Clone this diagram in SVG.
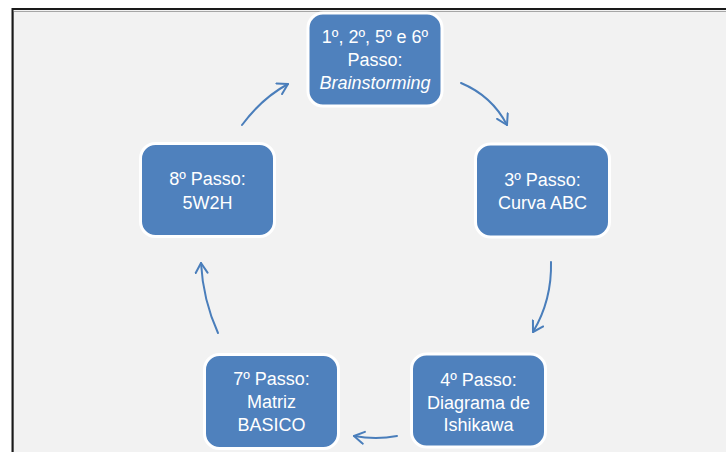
<svg xmlns="http://www.w3.org/2000/svg" width="726" height="452" viewBox="0 0 726 452">
<style>
.node rect{fill:#4f81bd;stroke:#ffffff;stroke-width:3}
.node text{fill:#ffffff;font-family:"Liberation Sans",Arial,sans-serif;font-size:18px;text-anchor:middle}
.conn path{fill:none;stroke:#4a7ebb;stroke-width:2;stroke-linecap:round}
</style>
<defs>
<marker id="ah" markerUnits="userSpaceOnUse" markerWidth="16" markerHeight="16" refX="11" refY="7" orient="auto">
<path d="M1,1 L11,7 L1,13" fill="none" stroke="#4a7ebb" stroke-width="2" stroke-linecap="round" stroke-linejoin="round"/>
</marker>
</defs>
<rect x="0" y="0" width="726" height="452" fill="#ffffff"/>
<rect x="12" y="9" width="730" height="460" fill="#f2f2f2"/>
<path d="M13.5,480 V11.5 H740" fill="none" stroke="#a6a6a6" stroke-width="1"/>
<path d="M12.5,480 V9 H740" fill="none" stroke="#1a1a1a" stroke-width="2"/>
<g id="connectors" class="conn">
<path d="M461,83 Q492,96 507,125" marker-end="url(#ah)"/>
<path d="M551,262 Q552,300 533,332" marker-end="url(#ah)"/>
<path d="M397,436 Q376,440 354,436" marker-end="url(#ah)"/>
<path d="M218,333 Q203,300 201,263" marker-end="url(#ah)"/>
<path d="M242,125 Q262,98 288,84" marker-end="url(#ah)"/>
</g>
<g id="node-brainstorming" class="node">
<rect x="308" y="13" width="134" height="93" rx="15"/>
<text x="375" y="43">1º, 2º, 5º e 6º</text>
<text x="375" y="66">Passo:</text>
<text x="375" y="89" font-style="italic">Brainstorming</text>
</g>
<g id="node-curva-abc" class="node">
<rect x="475.5" y="144" width="134" height="93" rx="15"/>
<text x="542.5" y="185.5">3º Passo:</text>
<text x="542.5" y="208.5">Curva ABC</text>
</g>
<g id="node-ishikawa" class="node">
<rect x="411.5" y="354" width="134" height="93" rx="15"/>
<text x="478.5" y="386">4º Passo:</text>
<text x="478.5" y="408.5">Diagrama de</text>
<text x="478.5" y="431">Ishikawa</text>
</g>
<g id="node-basico" class="node">
<rect x="204.5" y="354.5" width="134" height="94" rx="15"/>
<text x="271.5" y="384.5">7º Passo:</text>
<text x="271.5" y="408">Matriz</text>
<text x="271.5" y="431">BASICO</text>
</g>
<g id="node-5w2h" class="node">
<rect x="140.5" y="143.5" width="134" height="93" rx="15"/>
<text x="207.5" y="184.5">8º Passo:</text>
<text x="207.5" y="208.5">5W2H</text>
</g>
</svg>
